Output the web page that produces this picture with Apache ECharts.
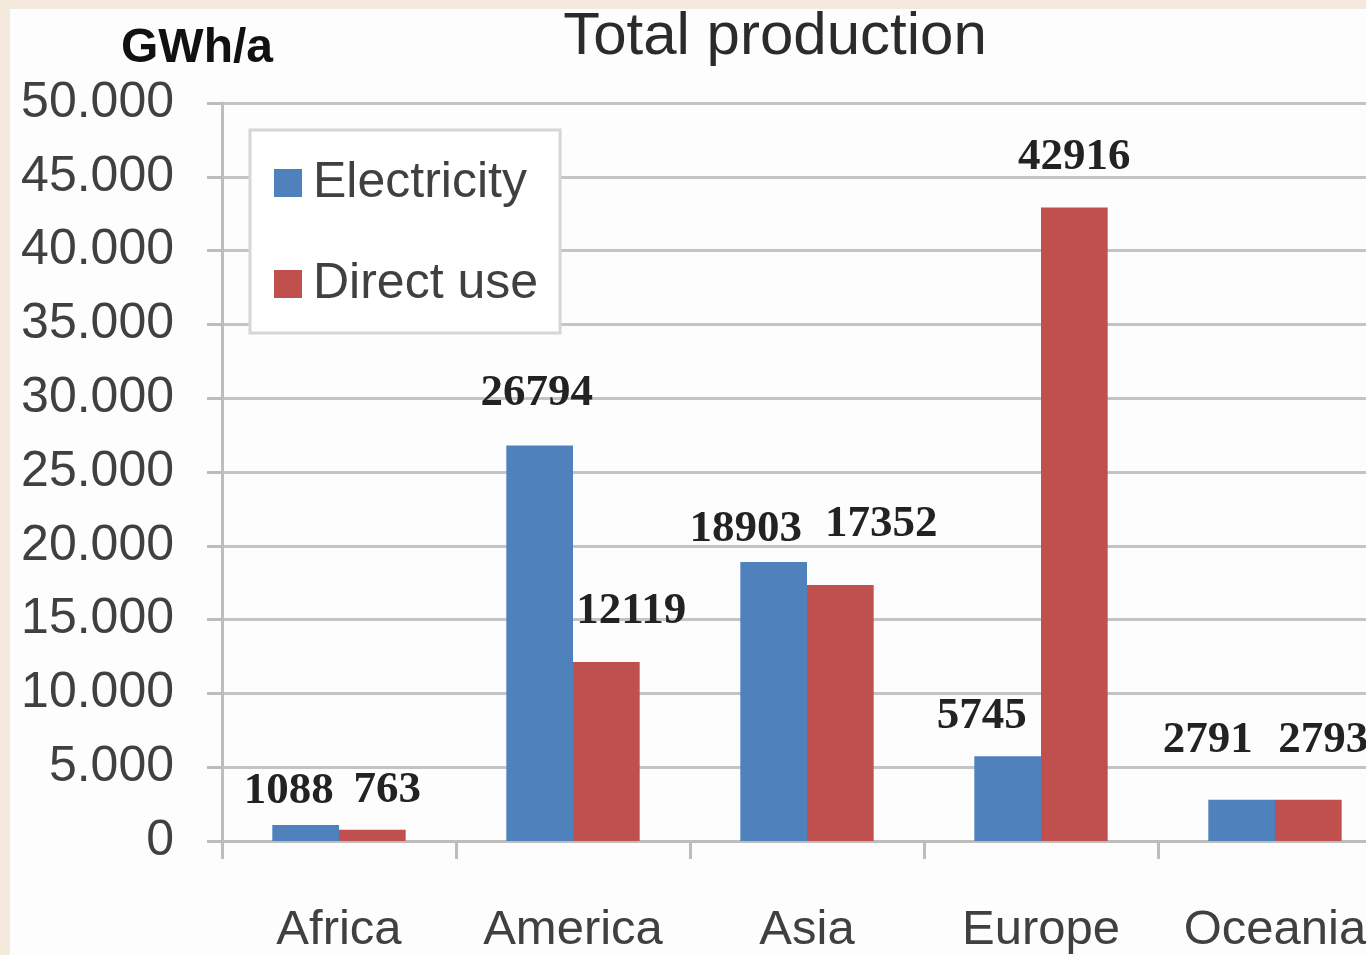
<!DOCTYPE html>
<html><head><meta charset="utf-8">
<script src="https://cdn.jsdelivr.net/npm/echarts@6/dist/echarts.min.js"></script>
<style>html,body{margin:0;padding:0;background:#f3e9dc;overflow:hidden;width:1366px;height:955px;}#c{width:1392px;height:955px;}</style>
</head><body><div id="c"></div>
<script>
const categories = ['Africa', 'America', 'Asia', 'Europe', 'Oceania'];
const electricity = [1088, 26794, 18903, 5745, 2791];
const directUse = [763, 12119, 17352, 42916, 2793];
const yTicks = [0, 5000, 10000, 15000, 20000, 25000, 30000, 35000, 40000, 45000, 50000];
// label nudges (style only): [dx, dy]
const elecShift = [[-17, -12], [-3, -30], [-28, -11], [-26, -18], [-34, -37]];
const directShift = [[15, -17], [25, -29], [41, -39], [0, -28], [15, -37]];

const chart = echarts.init(document.getElementById('c'));
const labelBase = {show: true, position: 'top', distance: 0, fontFamily: 'Liberation Serif', fontWeight: 'bold', fontSize: 45, lineHeight: 44, color: '#222222'};
function mk(vals, shifts) {
  return vals.map((v, i) => ({value: v, label: Object.assign({}, labelBase, {offset: shifts[i]})}));
}
function fmt(v) { return v === 0 ? '0' : String(v).replace(/\B(?=(\d{3})+(?!\d))/g, '.'); }
chart.setOption({
  animation: false,
  backgroundColor: '#f3e9dc',
  graphic: [{type: 'rect', z: -10, silent: true, shape: {x: 10, y: 9, width: 1382, height: 946}, style: {fill: '#fdfdfd'}}],
  title: {text: 'Total production', left: 770, top: 2, textAlign: 'center',
    textStyle: {fontFamily: 'Liberation Sans', fontSize: 60, fontWeight: 'normal', color: '#2b2b2b'}},
  legend: {left: 250, top: 130, orient: 'vertical', width: 312, padding: [28, 22, 24, 24],
    backgroundColor: '#ffffff', borderColor: '#d6d6d6', borderWidth: 3, itemWidth: 28, itemHeight: 28, itemGap: 51,
    textStyle: {fontFamily: 'Liberation Sans', fontSize: 50, color: '#404040', padding: [0, 0, 0, 6]},
    data: [{name: 'Electricity', icon: 'rect'}, {name: 'Direct use', icon: 'rect'}]},
  grid: {left: 222, top: 103, right: 0, bottom: 112, containLabel: false},
  xAxis: {type: 'category', data: categories,
    axisLine: {lineStyle: {color: '#bdbdbd', width: 3}},
    axisTick: {show: true, length: 18, lineStyle: {color: '#bdbdbd', width: 3}},
    axisLabel: {interval: 0, margin: 65, fontFamily: 'Liberation Sans', fontSize: 49, color: '#404040'}},
  yAxis: {type: 'value', min: yTicks[0], max: yTicks[yTicks.length - 1], interval: yTicks[1] - yTicks[0],
    name: 'GWh/a', nameLocation: 'end', nameGap: 30,
    nameTextStyle: {fontFamily: 'Liberation Sans', fontSize: 48, fontWeight: 'bold', color: '#111', align: 'center', padding: [0, 0, 0, -50]},
    axisLine: {show: true, lineStyle: {color: '#bdbdbd', width: 3}},
    axisTick: {show: true, length: 15, lineStyle: {color: '#bdbdbd', width: 3}},
    splitLine: {lineStyle: {color: '#c4c4c4', width: 3}},
    axisLabel: {margin: 48, fontFamily: 'Liberation Sans', fontSize: 50, color: '#404040', formatter: fmt}},
  series: [
    {name: 'Electricity', type: 'bar', data: mk(electricity, elecShift), barGap: '0%', barCategoryGap: '43%', itemStyle: {color: '#4f81bd'}},
    {name: 'Direct use', type: 'bar', data: mk(directUse, directShift), itemStyle: {color: '#c0504d'}}
  ]
});
</script></body></html>
